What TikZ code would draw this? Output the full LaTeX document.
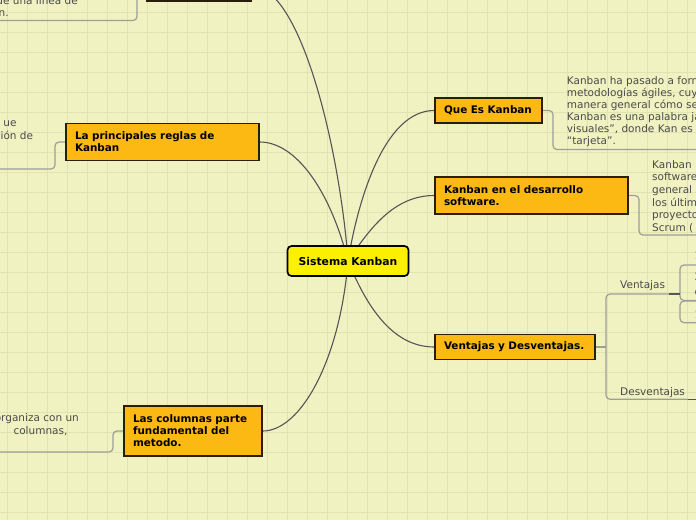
\documentclass[tikz,border=0pt]{standalone}
\usepackage{fontspec}
\setmainfont{DejaVu Sans}
\pgfdeclarelayer{gridlayer}
\pgfdeclarelayer{edgelayer}
\pgfsetlayers{gridlayer,edgelayer,main}
\definecolor{bgyellow}{RGB}{240,242,194}
\definecolor{gridcol}{RGB}{224,228,176}
\definecolor{topicorange}{RGB}{253,185,19}
\definecolor{centralyellow}{RGB}{250,240,0}
\definecolor{boxborder}{RGB}{40,30,10}
\definecolor{conncol}{RGB}{85,85,85}
\definecolor{bracketcol}{RGB}{158,158,148}
\definecolor{notegray}{RGB}{75,75,75}
\tikzset{
  x=1pt, y=-1pt,
  topic/.style={draw=boxborder, line width=1.5pt, fill=topicorange, rectangle,
    font=\bfseries\fontsize{10.4}{12}\selectfont, align=left, inner xsep=9pt, inner ysep=0pt,
    text=black},
  central/.style={draw=black, line width=1.7pt, fill=centralyellow, rounded corners=4pt,
    font=\bfseries\fontsize{10.8}{13}\selectfont, minimum width=121pt, minimum height=30pt, inner sep=0pt},
  conn/.style={draw=conncol, line width=1.1pt},
  bracket/.style={draw=bracketcol, line width=1.2pt, rounded corners=4pt},
  darkseg/.style={draw=conncol, line width=1.2pt},
  notetxt/.style={anchor=base west, inner sep=0pt, text=notegray, font=\fontsize{10.5}{12.4}\selectfont},
  notetxtr/.style={notetxt, anchor=base east},
  gridline/.style={draw=gridcol, line width=0.8pt}
}
\begin{document}
\begin{tikzpicture}
\useasboundingbox (0,0) rectangle (696,520);
\begin{pgfonlayer}{gridlayer}
  \fill[bgyellow] (0,0) rectangle (696,520);
  \foreach \gx in {7,27,...,695} {\draw[gridline] (\gx,0) -- (\gx,520);}
  \foreach \gy in {12,32,...,519} {\draw[gridline] (0,\gy) -- (696,\gy);}
\end{pgfonlayer}
\clip (0,0) rectangle (696,520);
% main topics
\node[central] (c) at (348,261) {Sistema Kanban};
\node[topic, text width=89pt, minimum width=107pt, minimum height=25pt] (qek) at (488.5,110.5) {Que Es Kanban};
\node[topic, text width=175pt, minimum width=193pt, minimum height=37pt] (ked) at (531.5,195.5) {Kanban en el desarrollo\\software.};
\node[topic, text width=142pt, minimum width=160pt, minimum height=25pt] (vyd) at (515,347) {Ventajas y Desventajas.};
\node[topic, text width=175pt, minimum width=193pt, minimum height=37pt] (reg) at (162.5,142) {La principales reglas de\\Kanban};
\node[topic, text width=120pt, minimum width=138pt, minimum height=50pt] (col) at (193,431) {Las columnas parte\\fundamental del\\metodo.};
\node[topic, minimum width=104pt, minimum height=30pt] (top) at (199,-14) {};
% sub-topic labels
\node[notetxt] (vlab) at (620,288.3) {Ventajas};
\node[notetxt] (dlab) at (620,395) {Desventajas};
% notes
\node[notetxtr] (n1a) at (78,4) {de una línea de};
\node[notetxt] (n1b) at (-1.5,16.7) {n.};
\node[notetxtr] (n2a) at (16.7,126.7) {ue};
\node[notetxtr] (n2b) at (33.3,139) {ción de};
\node[notetxtr] (n3a) at (79,421.7) {organiza con un};
\node[notetxt] (n3b) at (13.3,434.3) {columnas,};
\node[notetxt] (q1) at (566.7,84) {Kanban ha pasado a form};
\node[notetxt] (q2) at (566.7,96) {metodologías ágiles, cuy};
\node[notetxt] (q3) at (566.7,108) {manera general cómo se};
\node[notetxt] (q4) at (566.7,120) {Kanban es una palabra ja};
\node[notetxt] (q5) at (566.7,132) {visuales”, donde Kan es “};
\node[notetxt] (q6) at (566.7,144) {“tarjeta”.};
\node[notetxt] (k1) at (652,168) {Kanban};
\node[notetxt] (k2) at (652,180.7) {software};
\node[notetxt] (k3) at (652,193.4) {general};
\node[notetxt] (k4) at (652,206) {los últim};
\node[notetxt] (k5) at (652,218.7) {proyecto};
\node[notetxt] (k6) at (652,231.4) {Scrum (};
\node[notetxt] (v1) at (694.3,259.3) {1};
\node[notetxt] (v2) at (694.3,280.7) {2};
\node[notetxt] (v3) at (694.3,295) {c};
\node[notetxt] (v4) at (694.3,318.3) {1};
% bracket end points
\coordinate (tlend) at (-5,20.5);
\coordinate (tltop) at (137,-20);
\coordinate (qekend) at (700,149.5);
\coordinate (kedend) at (700,235);
\coordinate (regend) at (-5,169);
\coordinate (colend) at (-5,452);
\coordinate (vtop) at (669,294);
\coordinate (vtopj) at (680,294);
\coordinate (dend) at (688,399.3);
\coordinate (dend2) at (700,399.3);
\begin{pgfonlayer}{edgelayer}
  \clip (0,0) rectangle (696,520);
  \draw[conn] (c.center) .. controls +(-8,-111) and +(49,0) .. (top.east);
  \draw[conn] (c.center) .. controls +(10,-61) and +(-50,0) .. (qek.west);
  \draw[conn] (c.center) .. controls +(22,-33) and +(-40,0) .. (ked.west);
  \draw[conn] (c.center) .. controls +(20,49) and +(-40,0) .. (vyd.west);
  \draw[conn] (c.center) .. controls +(-18,-71) and +(36,0) .. (reg.east);
  \draw[conn] (c.center) .. controls +(-8,99) and +(38,0) .. (col.east);
  % note brackets
  \draw[bracket] (tlend) -| (tltop);
  \draw[bracket] (qek.east) -| (553,149.5) -- (qekend);
  \draw[bracket] (ked.east) -| (639,235) -- (kedend);
  \draw[bracket] (reg.west) -| (55,169) -- (regend);
  \draw[bracket] (col.west) -| (113,452) -- (colend);
  \draw[bracket] (vtop) -- (606,294) -- (606,399.3) -- (dend);
  \draw[bracket] (vyd.east) -- (606,347);
  \draw[bracket] (700,265) -- (680,265) -- (680,300.5) -- (700,300.5);
  \draw[bracket] (700,301) -- (680,301) -- (680,322.7) -- (700,322.7);
  \draw[darkseg] (vtop) -- (vtopj);
  \draw[darkseg] (dend) -- (dend2);
\end{pgfonlayer}
\end{tikzpicture}
\end{document}
